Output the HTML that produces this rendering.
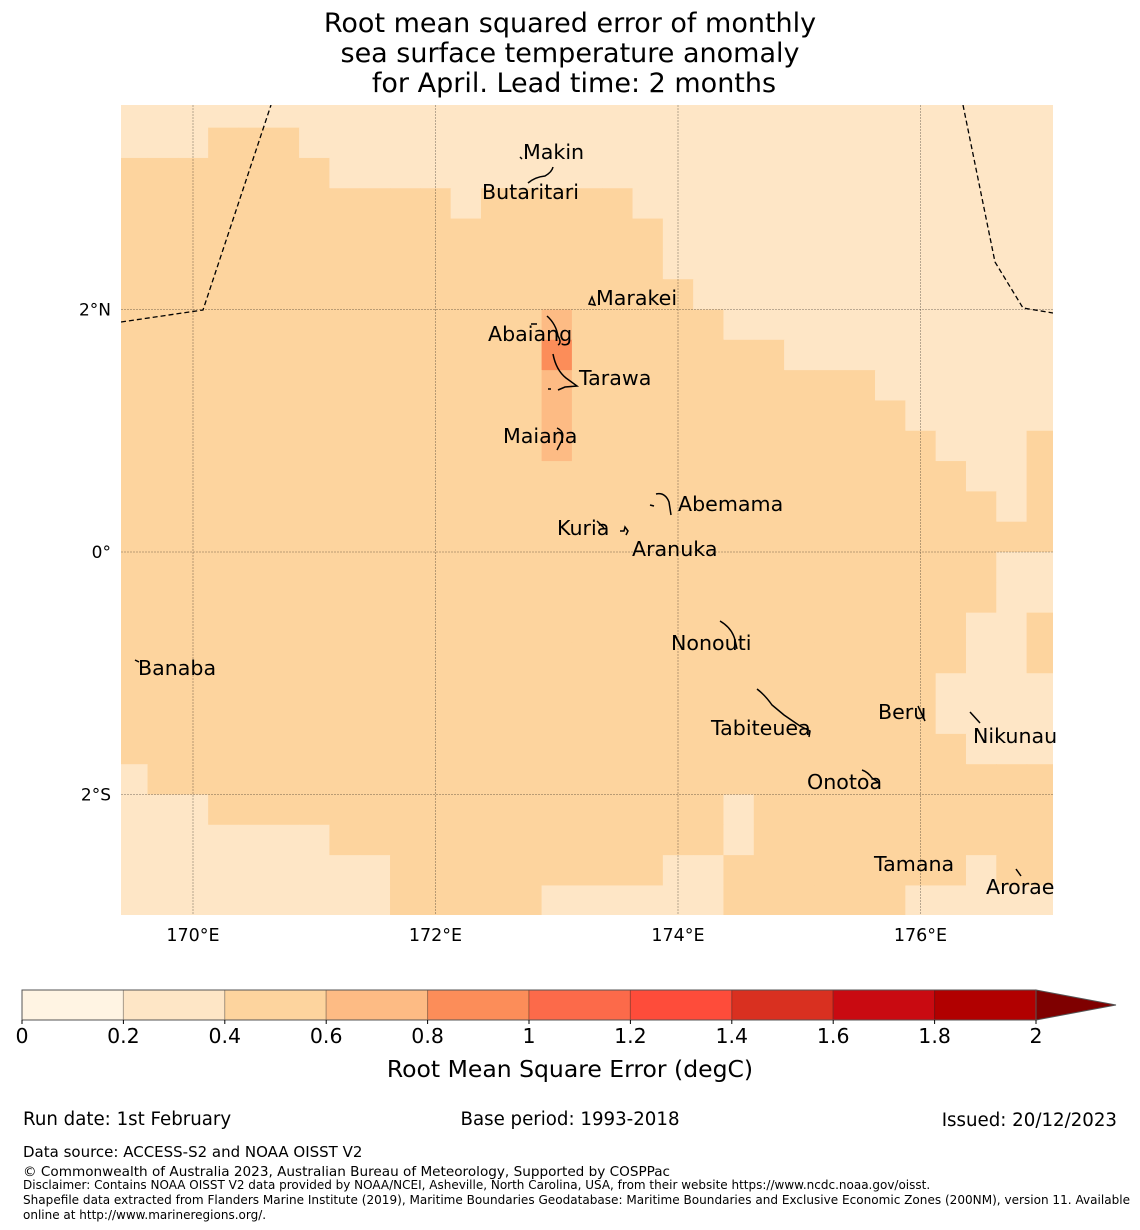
<!DOCTYPE html>
<html><head><meta charset="utf-8"><style>
body{margin:0;background:#fff;width:1140px;height:1230px;overflow:hidden;font-family:"DejaVu Sans","Liberation Sans",sans-serif;}
svg{display:block}
text{font-family:"DejaVu Sans","Liberation Sans",sans-serif;fill:#000}
</style></head><body>
<svg id="chart" width="1140" height="1230" viewBox="0 0 1140 1230">
<g>
<text x="570" y="32" font-size="27" text-anchor="middle">Root mean squared error of monthly</text>
<text x="570" y="62" font-size="27" text-anchor="middle">sea surface temperature anomaly</text>
<text x="574" y="92" font-size="27" text-anchor="middle">for April. Lead time: 2 months</text>
</g>
<defs><clipPath id="mapclip"><rect x="121" y="105" width="932" height="810"/></clipPath></defs>
<g id="cells" clip-path="url(#mapclip)"></g>
<g id="grid"></g>
<g clip-path="url(#mapclip)" fill="none" stroke="#000" stroke-width="1.3" stroke-dasharray="5,3">
<polyline points="121,322 203,310 271,105"/>
<polyline points="963,105 995,262 1023,308 1053,313"/>
</g>
<g fill="none" stroke="#000" stroke-width="1.5">
<path d="M528,183 Q535,177 545,176 Q552,172 553,167"/><path d="M520,157 l2,2"/>
<path d="M589,304 l3,-7 l3,8 z"/>
<path d="M547,316 Q556,324 558,336 Q562,343 558,345"/><path d="M531,324 l6,0"/>
<path d="M553,354 Q556,370 566,378 L577,386 L565,387 L558,390"/><path d="M548,389 l3,0"/>
<path d="M557,428 Q566,432 561,442 L557,450"/>
<path d="M656,494 Q665,492 669,502 L671,515"/><path d="M650,505 l4,1"/>
<path d="M597,521 l7,7"/><path d="M620,531 l4,0 l1,-4 l3,4 l-2,4"/>
<path d="M720,621 Q732,628 735,640 L737,649"/>
<path d="M135,660 l4,2"/>
<path d="M757,689 Q765,695 772,705 L784,715 L800,726 L810,731 L809,737"/>
<path d="M918,706 L925,721"/>
<path d="M970,712 L980,723"/>
<path d="M862,770 Q868,772 872,778 L878,782"/>
<path d="M1016,869 L1021,876"/>
</g>
<g>
<text x="523" y="159" font-size="20.6">Makin</text>
<text x="482" y="199" font-size="20.6">Butaritari</text>
<text x="596" y="305" font-size="20.6">Marakei</text>
<text x="488" y="341" font-size="20.6">Abaiang</text>
<text x="579" y="385" font-size="20.6">Tarawa</text>
<text x="503" y="443" font-size="20.6">Maiana</text>
<text x="678" y="511" font-size="20.6">Abemama</text>
<text x="557" y="535" font-size="20.6">Kuria</text>
<text x="632" y="556" font-size="20.6">Aranuka</text>
<text x="671" y="650" font-size="20.6">Nonouti</text>
<text x="138" y="675" font-size="20.6">Banaba</text>
<text x="711" y="735" font-size="20.6">Tabiteuea</text>
<text x="878" y="719" font-size="20.6">Beru</text>
<text x="973" y="743" font-size="20.6">Nikunau</text>
<text x="807" y="789" font-size="20.6">Onotoa</text>
<text x="874" y="871" font-size="20.6">Tamana</text>
<text x="986" y="894" font-size="20.6">Arorae</text>
</g>
<g id="axislabels"></g>
<g id="cbar"></g>
<text x="570" y="1077" font-size="23.5" text-anchor="middle">Root Mean Square Error (degC)</text>
<g>
<text x="23" y="1125" font-size="18.2">Run date: 1st February</text>
<text x="570" y="1125" font-size="18.2" text-anchor="middle">Base period: 1993-2018</text>
<text x="1117" y="1126" font-size="18.2" text-anchor="end">Issued: 20/12/2023</text>
<text x="23" y="1157" font-size="15">Data source: ACCESS-S2 and NOAA OISST V2</text>
<text x="23" y="1176" font-size="13.6">© Commonwealth of Australia 2023, Australian Bureau of Meteorology, Supported by COSPPac</text>
<text x="23" y="1189" font-size="12">Disclaimer: Contains NOAA OISST V2 data provided by NOAA/NCEI, Asheville, North Carolina, USA, from their website https://www.ncdc.noaa.gov/oisst.</text>
<text x="23" y="1204" font-size="12" textLength="1107" lengthAdjust="spacingAndGlyphs">Shapefile data extracted from Flanders Marine Institute (2019), Maritime Boundaries Geodatabase: Maritime Boundaries and Exclusive Economic Zones (200NM), version 11. Available</text>
<text x="23" y="1219" font-size="12">online at http://www.marineregions.org/.</text>
</g>
</svg>
<script>
// RMSE level per cell (index into levelColors), rows north->south from lat 3.75, cols from lon 169.375, 0.25 deg cells
const gridRows = [
"1111111111111111111111111111111",
"1112221111111111111111111111111",
"2222222111111111111111111111111",
"2222222222212222211111111111111",
"2222222222222222221111111111111",
"2222222222222222221111111111111",
"2222222222222222222111111111111",
"2222222222222232222211111111111",
"2222222222222242222222111111111",
"2222222222222232222222222111111",
"2222222222222232222222222211111",
"2222222222222232222222222221112",
"2222222222222222222222222222112",
"2222222222222222222222222222212",
"2222222222222222222222222222222",
"2222222222222222222222222222211",
"2222222222222222222222222222211",
"2222222222222222222222222222112",
"2222222222222222222222222222112",
"2222222222222222222222222221111",
"2222222222222222222222222221111",
"2222222222222222222222222222111",
"1222222222222222222222222222222",
"1112222222222222222212222222222",
"1111111222222222222212222222222",
"1111111112222222221122222222122",
"1111111112222211111122222211111"
];
const levelBounds = [0,0.2,0.4,0.6,0.8,1,1.2,1.4,1.6,1.8,2];
const levelColors = ["#fff4e3","#fee6c6","#fdd49e","#fdbb84","#fc8d59","#fc6a4a","#fe4c3a","#d93020","#c90a11","#b10000"];
const extendColor = "#7f0000";
const lonTicks = [170,172,174,176];
const latTicks = [2,0,-2];
const lonTickLabels = ["170°E","172°E","174°E","176°E"];
const latTickLabels = ["2°N","0°","2°S"];
const gridLon0 = 169.375, gridLat0 = 3.75, cellDeg = 0.25;

const NS="http://www.w3.org/2000/svg";
const pxPerDeg = 121.25;
function xLon(lon){return 193 + (lon-170)*pxPerDeg;}
function yLat(lat){return 552 - lat*pxPerDeg;}
function mk(tag,attrs,parent){const e=document.createElementNS(NS,tag);for(const k in attrs)e.setAttribute(k,attrs[k]);parent.appendChild(e);return e;}

const cells=document.getElementById('cells');
gridRows.forEach((row,r)=>{
  for(let c=0;c<row.length;c++){
    const lv=+row[c];
    const lon=gridLon0+c*cellDeg, lat=gridLat0-r*cellDeg;
    const x0=xLon(lon), x1=xLon(lon+cellDeg), y0=yLat(lat), y1=yLat(lat-cellDeg);
    const el=mk('rect',{x:x0.toFixed(2),y:y0.toFixed(2),width:(x1-x0+0.6).toFixed(2),height:(y1-y0+0.6).toFixed(2),fill:levelColors[lv]},cells);
    
    
  }
});

const grid=document.getElementById('grid');
const al=document.getElementById('axislabels');
lonTicks.forEach((lon,i)=>{
  const x=xLon(lon);
  const l=mk('line',{x1:x,y1:105,x2:x,y2:915,stroke:'#000','stroke-opacity':0.35,'stroke-width':0.8,'stroke-dasharray':'2,1'},grid);
  
  
  const t=mk('text',{x:x,y:941,'text-anchor':'middle','font-size':17.5},al);
  t.textContent=lonTickLabels[i];
  
  
});
latTicks.forEach((lat,i)=>{
  const y=yLat(lat);
  const l=mk('line',{x1:121,y1:y,x2:1053,y2:y,stroke:'#000','stroke-opacity':0.35,'stroke-width':0.8,'stroke-dasharray':'2,1'},grid);
  
  
  const t=mk('text',{x:111,y:y+6,'text-anchor':'end','font-size':17},al);
  t.textContent=latTickLabels[i];
  
  
});

const cb=document.getElementById('cbar');
const cbX0=22, cbX1=1036, cbY=990, cbH=30;
function xCb(v){return cbX0+(v-levelBounds[0])/(levelBounds[levelBounds.length-1]-levelBounds[0])*(cbX1-cbX0);}
levelColors.forEach((col,i)=>{
  const a=xCb(levelBounds[i]), b=xCb(levelBounds[i+1]);
  const r=mk('rect',{x:a,y:cbY,width:b-a,height:cbH,fill:col,stroke:'rgba(0,0,0,0.25)','stroke-width':1},cb);
  
  
});
const tri=mk('polygon',{points:`${cbX1},${cbY} ${cbX1+80},${cbY+cbH/2} ${cbX1},${cbY+cbH}`,fill:extendColor,stroke:'#555','stroke-width':1},cb);


mk('rect',{x:cbX0,y:cbY,width:cbX1-cbX0,height:cbH,fill:'none',stroke:'#555','stroke-width':1},cb);
levelBounds.forEach(v=>{
  const x=xCb(v);
  mk('line',{x1:x,y1:cbY+cbH,x2:x,y2:cbY+cbH+4,stroke:'#000'},cb);
  const t=mk('text',{x:x,y:1043,'text-anchor':'middle','font-size':20.5},cb);
  t.textContent=String(v);
  
  
});
</script>
</body></html>
